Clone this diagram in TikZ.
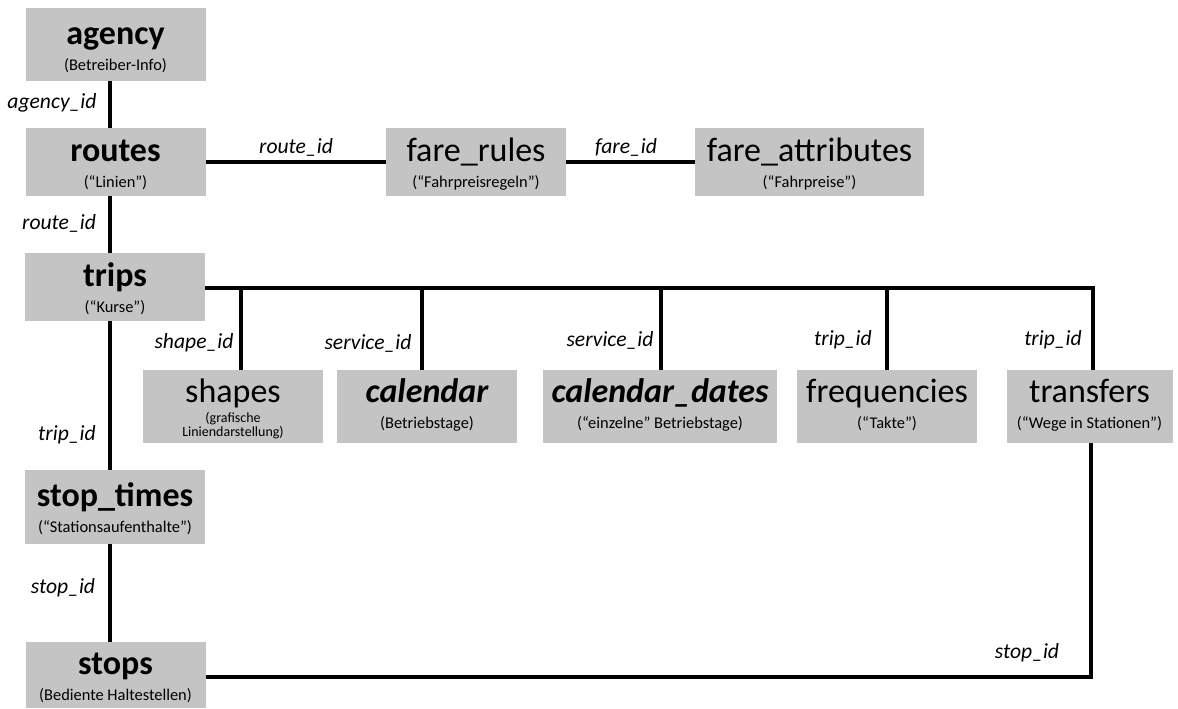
\documentclass[tikz,border=0pt]{standalone}
\usepackage{fontspec}
\setmainfont{Carlito}
\usetikzlibrary{positioning}
\definecolor{boxgray}{RGB}{196,196,196}
\newcommand\titlefont{\fontsize{17}{13}\selectfont\rule{0pt}{14pt}}
\newcommand\subfont{\fontsize{8.2}{13}\selectfont}
\newcommand\smallsub{\fontsize{7}{13}\selectfont}
\newcommand\lowpad{\rule[-5.5pt]{0pt}{0pt}}
\newcommand\keyfont{\fontsize{10.8}{13}\selectfont\itshape}
\tikzset{
	tablebox/.style={fill=boxgray, inner sep=0pt, align=center, minimum width=90pt, minimum height=34pt,
		font={\fontsize{10}{13}\selectfont\lineskiplimit=-20pt}},
	lowbox/.style={tablebox, minimum height=36.5pt},
	link/.style={line width=2.2pt},
	keylabel/.style={inner sep=0pt, font=\keyfont}
}
\begin{document}
\begin{tikzpicture}[x=0.5pt, y=-0.5pt]
		\useasboundingbox (0,0) rectangle (1178,708);
		% tables on the left trunk
		\node[tablebox, minimum height=36.5pt] (agency) at (115.5,44.5) {\titlefont\bfseries agency\\ \subfont (Betreiber-Info)};
		\node[tablebox] (routes) at (115.5,162) {\titlefont\bfseries routes\\ \subfont (“Linien”)};
		\node[tablebox] (trips) at (115,287) {\titlefont\bfseries trips\\ \subfont (“Kurse”)};
		\node[tablebox, minimum height=37pt] (stoptimes) at (115,507) {\titlefont\bfseries stop\_times\\ \subfont (“Stationsaufenthalte”)};
		\node[tablebox, minimum height=33pt] (stops) at (115.5,675) {\titlefont\bfseries stops\\ \subfont (Bediente Haltestellen)};
		% fares
		\node[tablebox] (farerules) at (476,162) {\titlefont fare\_rules\\ \subfont (“Fahrpreisregeln”)};
		\node[tablebox, minimum width=114.5pt] (fareattr) at (809.5,162) {\titlefont fare\_attributes\\ \subfont (“Fahrpreise”)};
		% tables below trips
		\node[lowbox] (shapes) at (233,406.5) {\titlefont shapes\\[-3pt] \smallsub (grafische\\[-6pt] \smallsub Liniendarstellung)};
		\node[lowbox] (calendar) at (427,406.5) {\titlefont\bfseries\itshape calendar\\ \subfont (Betriebstage)\lowpad};
		\node[lowbox, minimum width=117pt] (caldates) at (660,406.5) {\titlefont\bfseries\itshape calendar\_dates\\ \subfont (“einzelne” Betriebstage)\lowpad};
		\node[lowbox] (freq) at (887,406.5) {\titlefont frequencies\\ \subfont (“Takte”)\lowpad};
		\node[lowbox, minimum width=83pt] (transfers) at (1089.5,406.5) {\titlefont transfers\\ \subfont (“Wege in Stationen”)\lowpad};

		% connector points
		\coordinate (trunk) at (110,0);
		\coordinate (bus) at (0,288);
		\coordinate (c-shapes) at (241,288);
		\coordinate (c-calendar) at (422,288);
		\coordinate (c-caldates) at (661,288);
		\coordinate (c-freq) at (887,288);
		\coordinate (c-transfers) at (1093,288);
		\coordinate (c-stops) at (1091,677);

		\draw[link] (agency.south -| trunk) -- (routes.north -| trunk);
		\draw[link] (routes.south -| trunk) -- (trips.north -| trunk);
		\draw[link] (trips.south -| trunk) -- (stoptimes.north -| trunk);
		\draw[link] (stoptimes.south -| trunk) -- (stops.north -| trunk);
		\draw[link] (routes.east) -- (farerules.west);
		\draw[link] (farerules.east) -- (fareattr.west);
		\draw[link] (trips.east |- bus) -- (c-transfers) -- (c-transfers |- transfers.north);
		\foreach \n in {shapes,calendar,caldates,freq}
			\draw[link] (c-\n) -- (c-\n |- \n.north);
		\draw[link] (stops.east |- c-stops) -- (c-stops) -- (c-stops |- transfers.south);

		% key labels
		\node[keylabel] (k-agency) at (52,103) {agency\_id};
		\node[keylabel] (k-route) at (296,147) {route\_id};
		\node[keylabel] (k-fare) at (626,147) {fare\_id};
		\node[keylabel] (k-route2) at (59,223) {route\_id};
		\node[keylabel] (k-shape) at (194,343) {shape\_id};
		\node[keylabel] (k-service) at (368,343) {service\_id};
		\node[keylabel] (k-service2) at (610,340) {service\_id};
		\node[keylabel] (k-trip) at (843,340) {trip\_id};
		\node[keylabel] (k-trip2) at (1053,340) {trip\_id};
		\node[keylabel] (k-trip3) at (67,435) {trip\_id};
		\node[keylabel] (k-stop) at (63,588) {stop\_id};
		\node[keylabel] (k-stop2) at (1027,653) {stop\_id};
	\end{tikzpicture}
\end{document}
